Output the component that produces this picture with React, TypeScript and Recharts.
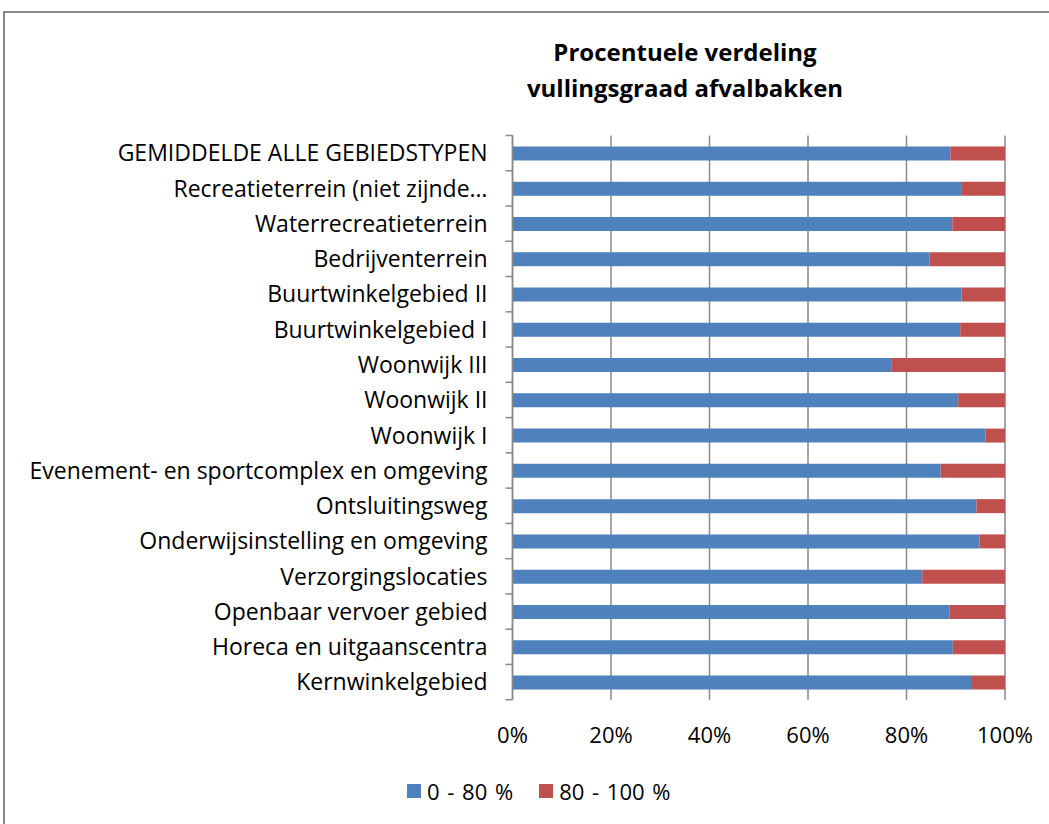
import { BarChart, Bar, XAxis, YAxis, CartesianGrid, Legend } from 'recharts'

const categories = [
    'GEMIDDELDE ALLE GEBIEDSTYPEN',
    'Recreatieterrein (niet zijnde…',
    'Waterrecreatieterrein',
    'Bedrijventerrein',
    'Buurtwinkelgebied II',
    'Buurtwinkelgebied I',
    'Woonwijk III',
    'Woonwijk II',
    'Woonwijk I',
    'Evenement- en sportcomplex en omgeving',
    'Ontsluitingsweg',
    'Onderwijsinstelling en omgeving',
    'Verzorgingslocaties',
    'Openbaar vervoer gebied',
    'Horeca en uitgaanscentra',
    'Kernwinkelgebied',
]

// share of bins filled 0-80% and 80-100%
const low = [88.9, 91.1, 89.3, 84.7, 91.2, 90.9, 76.9, 90.5, 96.0, 86.9, 94.2, 94.8, 83.2, 88.7, 89.4, 93.3]
const high = [11.1, 8.9, 10.7, 15.3, 8.8, 9.1, 23.1, 9.5, 4.0, 13.1, 5.8, 5.2, 16.8, 11.3, 10.6, 6.7]

const xTicks = [0, 20, 40, 60, 80, 100]

const W = 1049
const H = 824
const TOP = 135.5
const BOTTOM = 124.3
const LEGEND_H = 30
const X_AXIS_H = 30
const BAND = (H - TOP - BOTTOM) / categories.length
const FONT = '"Open Sans", Lato, sans-serif'
const GRID = '#898989'

const data = categories.map((name, i) => ({ name, low: low[i], high: high[i] }))

const CategoryTick = (props: any) => {
    const { x, y, payload, index } = props
    return (
        <g>
            <text x={x - 25} y={y} dy="0.36em" textAnchor="end" fontSize={23} fontFamily={FONT} fill="#000">
                {payload.value}
            </text>
            <line x1={x - 7} x2={x} y1={y - BAND / 2} y2={y - BAND / 2} stroke={GRID} strokeWidth={1.5} />
            {index === categories.length - 1 && (
                <line x1={x - 7} x2={x} y1={y + BAND / 2} y2={y + BAND / 2} stroke={GRID} strokeWidth={1.5} />
            )}
        </g>
    )
}

const renderLegend = (props: any) => {
    const { payload } = props
    return (
        <div style={{ display: 'flex', alignItems: 'center', fontFamily: FONT, fontSize: 22, wordSpacing: 2, color: '#000' }}>
            {payload.map((entry: any, i: number) => (
                <div key={entry.value} style={{ display: 'flex', alignItems: 'center', marginRight: i === 0 ? 26 : 0 }}>
                    <span style={{ width: 14, height: 14, background: entry.color, display: 'inline-block', marginRight: 6 }} />
                    <span>{entry.value}</span>
                </div>
            ))}
        </div>
    )
}

export default function App() {
    return (
        <div style={{ position: 'relative', width: W, height: H, overflow: 'hidden', background: '#fff' }}>
            <style>{'body{margin:0;overflow:hidden}'}</style>
            <div style={{
                position: 'absolute', left: 3, top: 11, width: 1100, height: 900,
                border: `2px solid ${GRID}`, boxSizing: 'border-box'
            }} />
            <div style={{
                position: 'absolute', left: 485, top: 34, width: 400, textAlign: 'center',
                fontFamily: FONT, fontWeight: 700, fontSize: 24, lineHeight: '36px', color: '#000'
            }}>
                Procentuele verdeling<br />vullingsgraad afvalbakken
            </div>
            <div style={{ position: 'absolute', left: 0, top: 0 }}>
                <BarChart
                    width={W}
                    height={H}
                    data={data}
                    layout="vertical"
                    margin={{ top: TOP, right: 44, left: 0, bottom: BOTTOM - X_AXIS_H - LEGEND_H }}
                    barSize={14}
                >
                    <CartesianGrid xAxisId="bottom" vertical horizontal={false} stroke={GRID} strokeWidth={1.5} />
                    <XAxis
                        xAxisId="bottom"
                        type="number"
                        domain={[0, 100]}
                        ticks={xTicks}
                        tickFormatter={(v) => `${v}%`}
                        axisLine={false}
                        tickLine={false}
                        tickMargin={22}
                        height={X_AXIS_H}
                        tick={{ fontSize: 22, fontFamily: FONT, fill: '#000' }}
                    />
                    <XAxis
                        xAxisId="top"
                        orientation="top"
                        type="number"
                        domain={[0, 100]}
                        ticks={xTicks}
                        tick={false}
                        tickLine={false}
                        height={0}
                        axisLine={{ stroke: GRID, strokeWidth: 1.5 }}
                    />
                    <YAxis
                        type="category"
                        dataKey="name"
                        width={512.5}
                        tickSize={0}
                        tickMargin={0}
                        tickLine={false}
                        axisLine={{ stroke: GRID, strokeWidth: 1.5 }}
                        tick={<CategoryTick />}
                        interval={0}
                    />
                    <Legend
                        content={renderLegend}
                        wrapperStyle={{ top: 776, left: 407, width: 400, height: LEGEND_H }}
                    />
                    <Bar xAxisId="bottom" dataKey="low" name="0 - 80 %" stackId="a" fill="#4F81BD" isAnimationActive={false} />
                    <Bar xAxisId="bottom" dataKey="high" name="80 - 100 %" stackId="a" fill="#C0504D" isAnimationActive={false} />
                </BarChart>
            </div>
        </div>
    )
}
